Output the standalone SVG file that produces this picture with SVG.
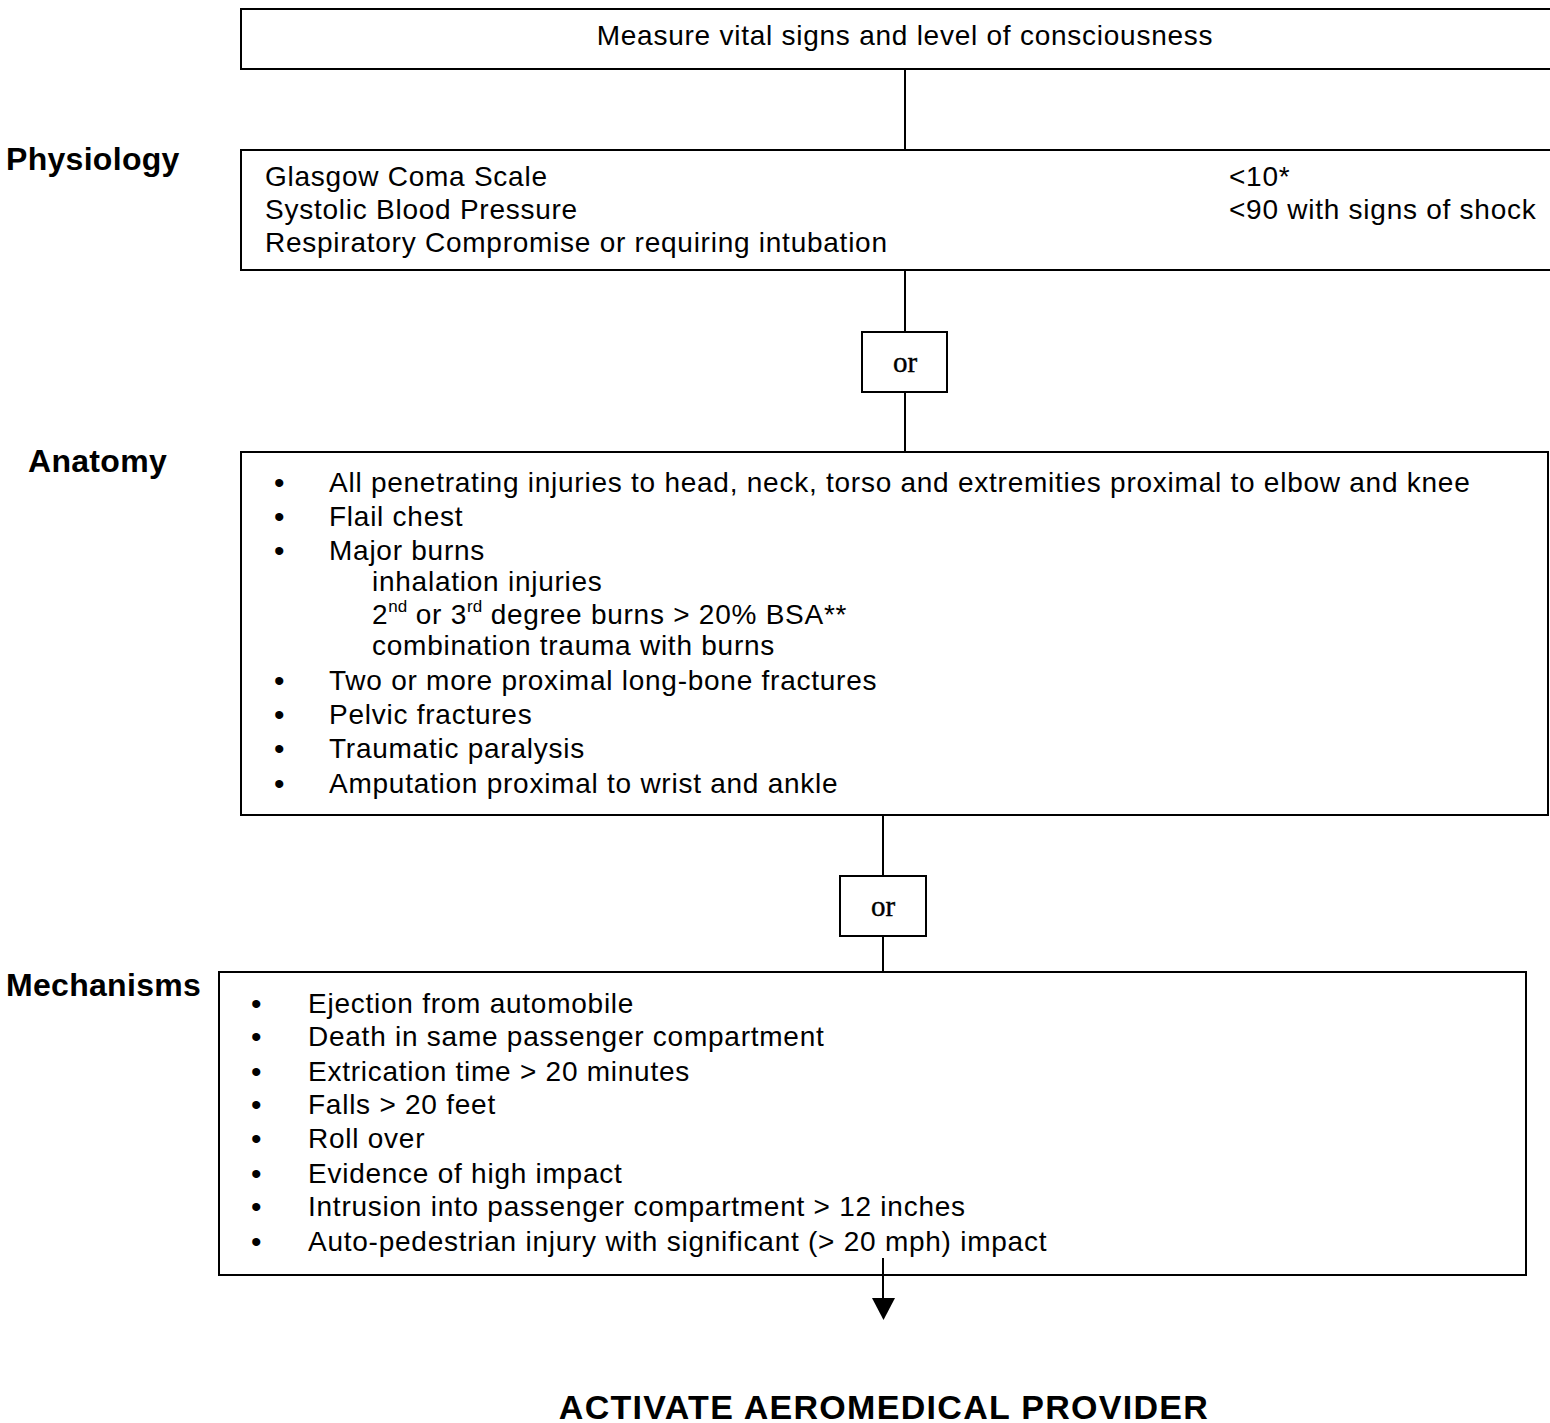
<svg xmlns="http://www.w3.org/2000/svg" width="1550" height="1423" viewBox="0 0 1550 1423">
<defs>
<style>
.box{fill:#fff;stroke:#000;stroke-width:2}
.ln{stroke:#000;stroke-width:2;fill:none}
.t{font-family:"Liberation Sans",Arial,sans-serif;font-size:28px;letter-spacing:0.75px;fill:#000}
.h{font-family:"Liberation Sans",Arial,sans-serif;font-size:32px;letter-spacing:0.3px;font-weight:bold;fill:#000}
.or{font-family:"Liberation Serif","Times New Roman",serif;font-size:29px;fill:#000;text-anchor:middle;stroke:#000;stroke-width:0.4}
.b{font-family:"Liberation Sans",Arial,sans-serif;font-size:30px;fill:#000}
.sup{font-size:17px;letter-spacing:0}
</style>
</defs>
<rect width="1550" height="1423" fill="#fff"/>
<g id="labels">
<text class="h" x="6" y="170">Physiology</text>
<text class="h" x="28" y="472">Anatomy</text>
<text class="h" x="6" y="996">Mechanisms</text>
</g>
<g id="vitals">
<rect class="box" x="241" y="9" width="1320" height="60"/>
<text class="t" x="905" y="45" text-anchor="middle">Measure vital signs and level of consciousness</text>
</g>
<g id="physiology">
<rect class="box" x="241" y="150" width="1320" height="120"/>
<text class="t" x="265" y="186">Glasgow Coma Scale</text>
<text class="t" x="265" y="219">Systolic Blood Pressure</text>
<text class="t" x="265" y="252">Respiratory Compromise or requiring intubation</text>
<text class="t" x="1229" y="186">&lt;10*</text>
<text class="t" x="1229" y="219">&lt;90 with signs of shock</text>
</g>
<g id="or1">
<rect class="box" x="862" y="332" width="85" height="60"/>
<text class="or" x="905" y="372">or</text>
</g>
<g id="anatomy">
<rect class="box" x="241" y="452" width="1307" height="363"/>
<g class="b">
<text x="274" y="493">•</text>
<text x="274" y="527">•</text>
<text x="274" y="561">•</text>
<text x="274" y="691">•</text>
<text x="274" y="725">•</text>
<text x="274" y="759">•</text>
<text x="274" y="794">•</text>
</g>
<text class="t" x="329" y="492">All penetrating injuries to head, neck, torso and extremities proximal to elbow and knee</text>
<text class="t" x="329" y="526">Flail chest</text>
<text class="t" x="329" y="560">Major burns</text>
<text class="t" x="372" y="591">inhalation injuries</text>
<text class="t" x="372" y="624">2<tspan class="sup" dy="-12">nd</tspan><tspan dy="12"> or 3</tspan><tspan class="sup" dy="-12">rd</tspan><tspan dy="12"> degree burns &gt; 20% BSA**</tspan></text>
<text class="t" x="372" y="655">combination trauma with burns</text>
<text class="t" x="329" y="690">Two or more proximal long-bone fractures</text>
<text class="t" x="329" y="724">Pelvic fractures</text>
<text class="t" x="329" y="758">Traumatic paralysis</text>
<text class="t" x="329" y="793">Amputation proximal to wrist and ankle</text>
</g>
<g id="or2">
<rect class="box" x="840" y="876" width="86" height="60"/>
<text class="or" x="883" y="916">or</text>
</g>
<g id="mechanisms">
<rect class="box" x="219" y="972" width="1307" height="303"/>
<g class="b">
<text x="251" y="1014">•</text>
<text x="251" y="1047">•</text>
<text x="251" y="1082">•</text>
<text x="251" y="1115">•</text>
<text x="251" y="1149">•</text>
<text x="251" y="1184">•</text>
<text x="251" y="1217">•</text>
<text x="251" y="1252">•</text>
</g>
<text class="t" x="308" y="1013">Ejection from automobile</text>
<text class="t" x="308" y="1046">Death in same passenger compartment</text>
<text class="t" x="308" y="1081">Extrication time &gt; 20 minutes</text>
<text class="t" x="308" y="1114">Falls &gt; 20 feet</text>
<text class="t" x="308" y="1148">Roll over</text>
<text class="t" x="308" y="1183">Evidence of high impact</text>
<text class="t" x="308" y="1216">Intrusion into passenger compartment &gt; 12 inches</text>
<text class="t" x="308" y="1251">Auto-pedestrian injury with significant (&gt; 20 mph) impact</text>
</g>
<g id="result">
<text x="884" y="1419" text-anchor="middle" style="font-family:'Liberation Sans',Arial,sans-serif;font-size:34px;letter-spacing:1.3px;font-weight:bold">ACTIVATE AEROMEDICAL PROVIDER</text>
</g>
<g id="connectors">
<line class="ln" x1="905" y1="69" x2="905" y2="150"/>
<line class="ln" x1="905" y1="270" x2="905" y2="332"/>
<line class="ln" x1="905" y1="392" x2="905" y2="452"/>
<line class="ln" x1="883" y1="815" x2="883" y2="876"/>
<line class="ln" x1="883" y1="936" x2="883" y2="972"/>
<line class="ln" x1="883" y1="1258" x2="883" y2="1300"/>
<path d="M872,1298 L895,1298 L883.5,1320 Z" fill="#000"/>
</g>
</svg>
